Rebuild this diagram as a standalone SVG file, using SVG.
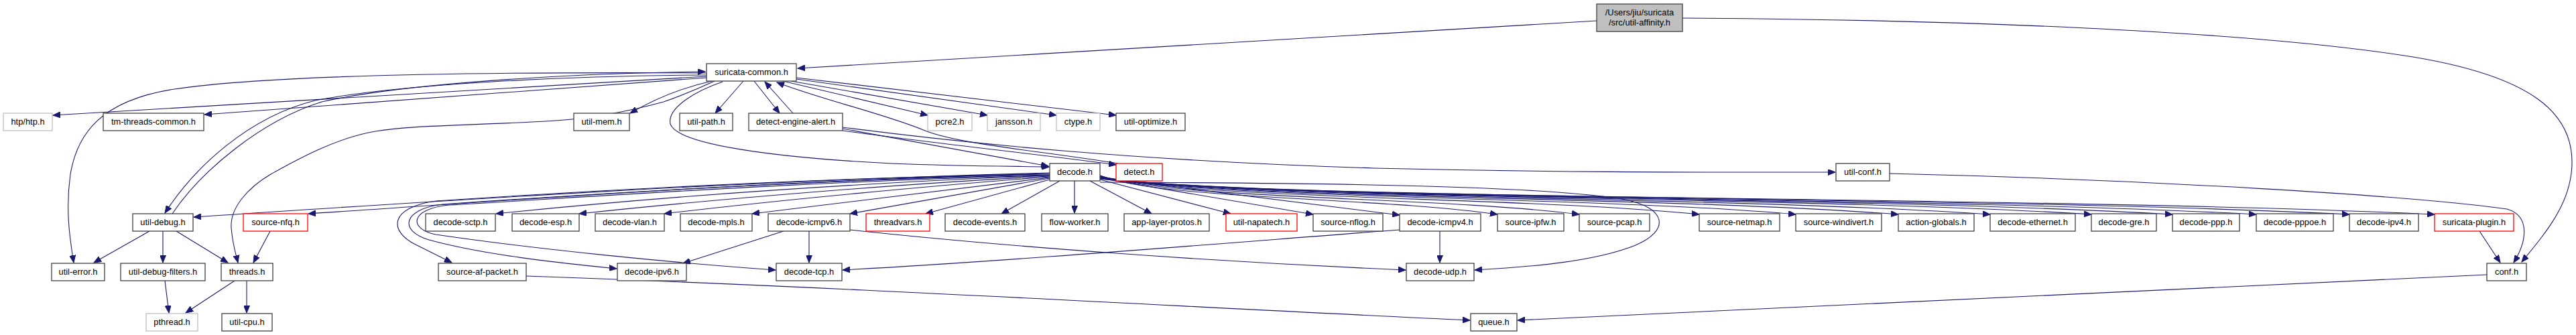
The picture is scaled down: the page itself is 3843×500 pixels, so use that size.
<svg xmlns="http://www.w3.org/2000/svg" width="3843" height="500" viewBox="0 0 3843 500">
<style>
.nd rect{fill:#fff;stroke:#404040;stroke-width:1.3}
.nd.g rect{stroke:#bfbfbf}
.nd.r rect{stroke:#ff0000}
.nd.m rect{fill:#bfbfbf;stroke:#404040}
.nd text{font-family:"Liberation Sans",Arial,sans-serif;font-size:12.9px;fill:#000;text-anchor:middle}
.e path{fill:none;stroke:#191970;stroke-width:1.1;marker-end:url(#a)}
</style>
<defs>
<marker id="a" markerUnits="userSpaceOnUse" markerWidth="12" markerHeight="9" refX="11" refY="4.5" orient="auto">
<path d="M0,0 L11,4.5 L0,9 Z" fill="#191970" stroke="#191970" stroke-width="1"/>
</marker>
</defs>
<rect width="3843" height="500" fill="#fff"/>
<g id="edges" class="e">
<path d="M2382,31 L1190,102"/>
<path d="M2510,27 C2900,29 3350,45 3600,85 C3780,115 3836,170 3837,240 C3838,300 3800,345 3762,391"/>
<path d="M1054,114 L79,172"/>
<path d="M1054,116 L305,171"/>
<path d="M1062,121 C1030,128 990,140 940,169"/>
<path d="M1054,109 C700,107 400,112 260,133 C150,150 115,200 105,260 C98,310 103,350 110,392"/>
<path d="M1054,112 C850,113 600,125 470,150 C370,175 290,250 246,318"/>
<path d="M257,319 C300,255 390,180 480,152 C600,125 850,109 1052,107"/>
<path d="M1066,121 C1040,133 1010,145 990,152 C950,163 890,176 829,180 C700,188 620,186 560,196 C500,206 440,240 404,260 C370,280 343,310 345,340 C347,365 352,380 355,392"/>
<path d="M1109,121 L1067,169"/>
<path d="M1125,121 L1163,169"/>
<path d="M1183,169 L1141,122"/>
<path d="M1168,121 L1384,172"/>
<path d="M1180,121 L1473,172"/>
<path d="M1188,118 L1576,172"/>
<path d="M1188,116 L1665,172"/>
<path d="M1078,122 C1040,135 995,160 1000,185 C1010,215 1150,235 1330,244 C1430,248 1500,248 1565,249"/>
<path d="M1668,244 C1550,225 1430,215 1380,195 C1320,170 1230,150 1159,123"/>
<path d="M1257,192 L1564,248"/>
<path d="M1257,195 C1400,215 1550,230 1665,246"/>
<path d="M1257,190 C1450,215 1700,240 2050,251 C2350,258 2550,257 2738,257"/>
<path d="M1566,258 C1100,270 650,300 289,324"/>
<path d="M1566,259 C1100,272 750,300 460,319"/>
<path d="M1566,262 C1300,272 1000,292 740,319"/>
<path d="M1566,263 C1350,274 1080,296 864,319"/>
<path d="M1566,264 C1400,276 1150,300 991,319"/>
<path d="M1566,265 L1122,319"/>
<path d="M1566,266 L1268,319"/>
<path d="M1566,268 L1381,319"/>
<path d="M1581,270 L1494,319"/>
<path d="M1603,270 L1603,318"/>
<path d="M1626,270 L1718,319"/>
<path d="M1641,268 L1836,319"/>
<path d="M1641,266 L1959,320"/>
<path d="M1641,265 L2088,321"/>
<path d="M1641,262 C1730,298 2056,294 2234,320"/>
<path d="M1641,262 C1748,298 2142,293 2356,320"/>
<path d="M1641,263 C1775,298 2267,293 2535,320"/>
<path d="M1641,263 C1797,298 2368,292 2679,320"/>
<path d="M1641,264 C1820,298 2475,292 2832,320"/>
<path d="M1641,264 C1840,298 2571,292 2969,320"/>
<path d="M1641,265 C1863,298 2676,292 3120,320"/>
<path d="M1641,265 C1881,298 2761,292 3241,320"/>
<path d="M1641,266 C1900,299 2849,292 3366,320"/>
<path d="M1641,266 C1921,299 2946,292 3505,320"/>
<path d="M1641,267 C1940,300 3035,292 3632,320"/>
<path d="M1566,260 C1200,265 800,290 650,300 C580,310 580,345 620,365 C640,375 660,385 674,392"/>
<path d="M1566,261 C1200,268 800,295 660,305 C600,312 595,345 640,358 C720,380 830,392 920,401"/>
<path d="M1566,262 C1200,270 820,298 670,306 C610,312 610,342 650,350 C800,372 1000,392 1157,403"/>
<path d="M1641,272 C2000,273 2300,278 2420,297 C2490,310 2490,345 2440,366 C2380,390 2290,398 2200,403"/>
<path d="M2148,345 L2148,392"/>
<path d="M2088,343 C1800,365 1500,390 1257,403"/>
<path d="M1268,343 C1500,368 1800,390 2097,403"/>
<path d="M1207,345 L1207,392"/>
<path d="M1169,345 L1019,393"/>
<path d="M785,412 C1300,430 1800,460 2193,478"/>
<path d="M3710,410 L2264,478"/>
<path d="M2819,259 C3200,268 3600,292 3740,312 C3775,322 3770,360 3750,392"/>
<path d="M3699,345 L3730,392"/>
<path d="M223,345 L140,392"/>
<path d="M243,345 L243,392"/>
<path d="M263,345 L340,392"/>
<path d="M403,345 L378,392"/>
<path d="M246,419 L252,467"/>
<path d="M350,419 L277,467"/>
<path d="M368,419 L368,467"/>
</g>
<g id="n-main" class="nd m"><rect x="2382" y="6" width="128" height="41"/><text x="2446" y="23">/Users/jiu/suricata</text><text x="2446" y="38">/src/util-affinity.h</text></g>
<g id="n-suricata-common" class="nd"><rect x="1054" y="95" width="134" height="26"/><text x="1121" y="112">suricata-common.h</text></g>
<g id="n-htp" class="nd g"><rect x="5" y="169" width="73" height="26"/><text x="41.5" y="186">htp/htp.h</text></g>
<g id="n-tm-threads-common" class="nd"><rect x="154" y="169" width="150" height="26"/><text x="229" y="186">tm-threads-common.h</text></g>
<g id="n-util-mem" class="nd"><rect x="856" y="169" width="83" height="26"/><text x="897.5" y="186">util-mem.h</text></g>
<g id="n-util-path" class="nd"><rect x="1014" y="169" width="79" height="26"/><text x="1053.5" y="186">util-path.h</text></g>
<g id="n-detect-engine-alert" class="nd"><rect x="1117" y="169" width="140" height="26"/><text x="1187" y="186">detect-engine-alert.h</text></g>
<g id="n-pcre2" class="nd g"><rect x="1384" y="169" width="66" height="26"/><text x="1417" y="186">pcre2.h</text></g>
<g id="n-jansson" class="nd g"><rect x="1473" y="169" width="79" height="26"/><text x="1512.5" y="186">jansson.h</text></g>
<g id="n-ctype" class="nd g"><rect x="1576" y="169" width="65" height="26"/><text x="1608.5" y="186">ctype.h</text></g>
<g id="n-util-optimize" class="nd"><rect x="1665" y="169" width="103" height="26"/><text x="1716.5" y="186">util-optimize.h</text></g>
<g id="n-decode" class="nd"><rect x="1566" y="244" width="75" height="26"/><text x="1603.5" y="261">decode.h</text></g>
<g id="n-detect" class="nd r"><rect x="1665" y="244" width="69" height="26"/><text x="1699.5" y="261">detect.h</text></g>
<g id="n-util-conf" class="nd"><rect x="2739" y="244" width="80" height="26"/><text x="2779" y="261">util-conf.h</text></g>
<g id="n-util-debug" class="nd"><rect x="198" y="319" width="90" height="26"/><text x="243" y="336">util-debug.h</text></g>
<g id="n-source-nfq" class="nd r"><rect x="363" y="319" width="96" height="26"/><text x="411" y="336">source-nfq.h</text></g>
<g id="n-decode-sctp" class="nd"><rect x="635" y="319" width="104" height="26"/><text x="687" y="336">decode-sctp.h</text></g>
<g id="n-decode-esp" class="nd"><rect x="764" y="319" width="100" height="26"/><text x="814" y="336">decode-esp.h</text></g>
<g id="n-decode-vlan" class="nd"><rect x="888" y="319" width="103" height="26"/><text x="939.5" y="336">decode-vlan.h</text></g>
<g id="n-decode-mpls" class="nd"><rect x="1015" y="319" width="107" height="26"/><text x="1068.5" y="336">decode-mpls.h</text></g>
<g id="n-decode-icmpv6" class="nd"><rect x="1146" y="319" width="122" height="26"/><text x="1207" y="336">decode-icmpv6.h</text></g>
<g id="n-threadvars" class="nd r"><rect x="1292" y="319" width="95" height="26"/><text x="1339.5" y="336">threadvars.h</text></g>
<g id="n-decode-events" class="nd"><rect x="1410" y="319" width="119" height="26"/><text x="1469.5" y="336">decode-events.h</text></g>
<g id="n-flow-worker" class="nd"><rect x="1554" y="319" width="99" height="26"/><text x="1603.5" y="336">flow-worker.h</text></g>
<g id="n-app-layer-protos" class="nd"><rect x="1677" y="319" width="127" height="26"/><text x="1740.5" y="336">app-layer-protos.h</text></g>
<g id="n-util-napatech" class="nd r"><rect x="1829" y="319" width="106" height="26"/><text x="1882" y="336">util-napatech.h</text></g>
<g id="n-source-nflog" class="nd"><rect x="1959" y="319" width="104" height="26"/><text x="2011" y="336">source-nflog.h</text></g>
<g id="n-decode-icmpv4" class="nd"><rect x="2088" y="319" width="121" height="26"/><text x="2148.5" y="336">decode-icmpv4.h</text></g>
<g id="n-source-ipfw" class="nd"><rect x="2234" y="319" width="99" height="26"/><text x="2283.5" y="336">source-ipfw.h</text></g>
<g id="n-source-pcap" class="nd"><rect x="2356" y="319" width="105" height="26"/><text x="2408.5" y="336">source-pcap.h</text></g>
<g id="n-source-netmap" class="nd"><rect x="2535" y="319" width="120" height="26"/><text x="2595" y="336">source-netmap.h</text></g>
<g id="n-source-windivert" class="nd"><rect x="2679" y="319" width="128" height="26"/><text x="2743" y="336">source-windivert.h</text></g>
<g id="n-action-globals" class="nd"><rect x="2832" y="319" width="113" height="26"/><text x="2888.5" y="336">action-globals.h</text></g>
<g id="n-decode-ethernet" class="nd"><rect x="2969" y="319" width="127" height="26"/><text x="3032.5" y="336">decode-ethernet.h</text></g>
<g id="n-decode-gre" class="nd"><rect x="3120" y="319" width="97" height="26"/><text x="3168.5" y="336">decode-gre.h</text></g>
<g id="n-decode-ppp" class="nd"><rect x="3241" y="319" width="100" height="26"/><text x="3291" y="336">decode-ppp.h</text></g>
<g id="n-decode-pppoe" class="nd"><rect x="3366" y="319" width="115" height="26"/><text x="3423.5" y="336">decode-pppoe.h</text></g>
<g id="n-decode-ipv4" class="nd"><rect x="3505" y="319" width="103" height="26"/><text x="3556.5" y="336">decode-ipv4.h</text></g>
<g id="n-suricata-plugin" class="nd r"><rect x="3632" y="319" width="118" height="26"/><text x="3691" y="336">suricata-plugin.h</text></g>
<g id="n-util-error" class="nd"><rect x="77" y="393" width="79" height="26"/><text x="116.5" y="410">util-error.h</text></g>
<g id="n-util-debug-filters" class="nd"><rect x="180" y="393" width="126" height="26"/><text x="243" y="410">util-debug-filters.h</text></g>
<g id="n-threads" class="nd"><rect x="330" y="393" width="77" height="26"/><text x="368.5" y="410">threads.h</text></g>
<g id="n-source-af-packet" class="nd"><rect x="654" y="393" width="131" height="26"/><text x="719.5" y="410">source-af-packet.h</text></g>
<g id="n-decode-ipv6" class="nd"><rect x="921" y="393" width="103" height="26"/><text x="972.5" y="410">decode-ipv6.h</text></g>
<g id="n-decode-tcp" class="nd"><rect x="1158" y="393" width="98" height="26"/><text x="1207" y="410">decode-tcp.h</text></g>
<g id="n-decode-udp" class="nd"><rect x="2098" y="393" width="101" height="26"/><text x="2148.5" y="410">decode-udp.h</text></g>
<g id="n-conf" class="nd"><rect x="3710" y="393" width="59" height="26"/><text x="3739.5" y="410">conf.h</text></g>
<g id="n-pthread" class="nd g"><rect x="218" y="468" width="77" height="26"/><text x="256.5" y="485">pthread.h</text></g>
<g id="n-util-cpu" class="nd"><rect x="331" y="468" width="75" height="26"/><text x="368.5" y="485">util-cpu.h</text></g>
<g id="n-queue" class="nd"><rect x="2194" y="468" width="69" height="26"/><text x="2228.5" y="485">queue.h</text></g>
</svg>
